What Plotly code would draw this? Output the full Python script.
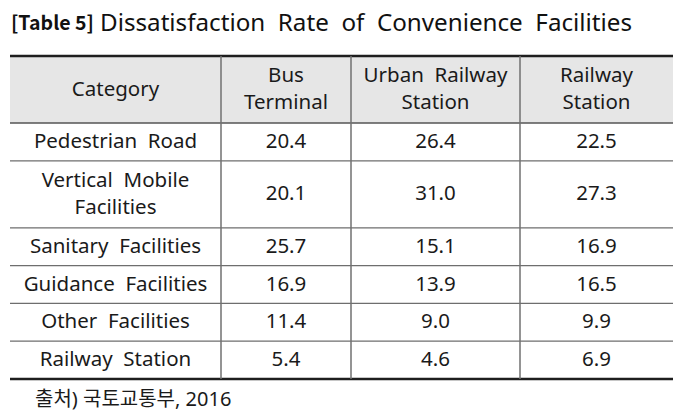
import plotly.graph_objects as go
import numpy as np

# table content
headers = ["Category", "Bus<br>Terminal", "Urban Railway<br>Station", "Railway<br>Station"]
categories = ["Pedestrian Road", "Vertical Mobile<br>Facilities", "Sanitary Facilities",
              "Guidance Facilities", "Other Facilities", "Railway Station"]
bus_terminal = [20.4, 20.1, 25.7, 16.9, 11.4, 5.4]
urban_railway = [26.4, 31.0, 15.1, 13.9, 9.0, 4.6]
railway_station = [22.5, 27.3, 16.9, 16.5, 9.9, 6.9]

title_bold = "[Table 5]"
title_rest = "Dissatisfaction Rate of Convenience Facilities"
source = "출처) 국토교통부, 2016"

W, H = 693, 416
FONT = "Noto Sans, Noto Sans CJK KR"
col_widths = [211, 130, 169, 153]
table_left, table_top = 10, 56
line_h1, line_h2 = 37.8, 67  # one-line and two-line row heights


def spaced(s):
    # the source uses wide word gaps
    return s.replace(" ", "\u00a0\u00a0")


cols = np.concatenate([[table_left], table_left + np.cumsum(col_widths)])
col_mid = (cols[:-1] + cols[1:]) / 2

rows_text = [headers] + [[c, f"{b:.1f}", f"{u:.1f}", f"{r:.1f}"]
                         for c, b, u, r in zip(categories, bus_terminal, urban_railway, railway_station)]
row_heights = [line_h2 if any("<br>" in t for t in r) else line_h1 for r in rows_text]
rows = np.concatenate([[table_top], table_top + np.cumsum(row_heights)])
row_mid = (rows[:-1] + rows[1:]) / 2

fig = go.Figure()

xs, ys, ts = [], [], []
for i, r in enumerate(rows_text):
    for j, t in enumerate(r):
        xs.append(col_mid[j])
        ys.append(row_mid[i] + 1)
        ts.append(spaced(t))
fig.add_trace(go.Scatter(x=xs, y=ys, text=ts, mode="text", textposition="middle center",
                         textfont=dict(family=FONT, size=20.5, color="#1a1a1a"),
                         hoverinfo="skip", showlegend=False))

shapes = []
# header background
shapes.append(dict(type="rect", xref="x", yref="y", x0=cols[0], x1=cols[-1], y0=rows[0], y1=rows[1],
                   fillcolor="#e6e6e6", line=dict(width=0), layer="below"))
# row lines
for k, y in enumerate(rows):
    if k == 0 or k == len(rows) - 1:
        ln = dict(color="#1e1e1e", width=2.5)
    elif k == 1:
        ln = dict(color="#555555", width=1.5)
    else:
        ln = dict(color="#6e6e6e", width=1.2)
    shapes.append(dict(type="line", xref="x", yref="y", x0=cols[0], x1=cols[-1], y0=y, y1=y, line=ln))
# column lines
for x in cols[1:-1]:
    shapes.append(dict(type="line", xref="x", yref="y", x0=x, x1=x, y0=rows[0], y1=rows[-1],
                       line=dict(color="#707070", width=1.5)))

fig.update_layout(
    width=W, height=H,
    margin=dict(l=0, r=0, t=0, b=0),
    paper_bgcolor="white", plot_bgcolor="white",
    xaxis=dict(range=[0, W], visible=False, fixedrange=True),
    yaxis=dict(range=[H, 0], visible=False, fixedrange=True),
    shapes=shapes,
    annotations=[
        dict(xref="x", yref="y", x=9, y=21, xanchor="left", yanchor="middle", showarrow=False,
             text=f"<b>{title_bold}</b>",
             font=dict(family="Noto Sans CJK KR", size=19.5, color="#111111")),
        dict(xref="x", yref="y", x=98, y=21, xanchor="left", yanchor="middle", showarrow=False,
             text=spaced(title_rest),
             font=dict(family=FONT, size=24.2, color="#111111")),
        dict(xref="x", yref="y", x=33, y=398, xanchor="left", yanchor="middle", showarrow=False,
             text=source, font=dict(family=FONT, size=20, color="#1a1a1a")),
    ],
)

fig.write_html("out.html", config={"displayModeBar": False},
               post_script="document.body.style.margin='0';")
